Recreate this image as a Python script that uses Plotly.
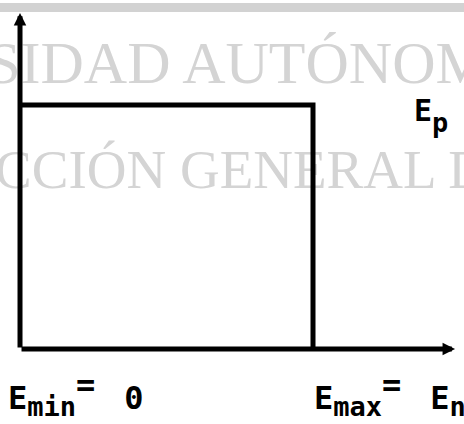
import plotly.graph_objects as go

# Energy levels (normalised so that E_max = 1) and the constant density E_p
E_MIN = 0.0
E_MAX = 1.0
E_P = 1.0

# lengths of the two drawn axes, in the same units
X_AXIS_END = 1.485
Y_AXIS_END = 1.377

# rectangular distribution: flat at E_p between E_min and E_max, then drops to zero
dist_x = [E_MIN, E_MAX, E_MAX]
dist_y = [E_P, E_P, 0.0]

# labels (a wide space spans the gap before the right-hand value)
GAP = "<span style='font-size:48px'> </span>"
SUB = "<sub><span style='font-size:27px'>{}</span></sub>"
EQ = "<sup><span style='font-size:32px'>=</span></sup>"
label_min = "E" + SUB.format("min") + EQ + GAP + "0"
label_max = "E" + SUB.format("max") + EQ + GAP + "E" + SUB.format("n")
label_p = "E<sub><sub><span style='font-size:27px'>p</span></sub></sub>"

# background stamp lines (centred text)
stamp_lines = ["SIDAD AUTÓNOM", "CCIÓN GENERAL D"]
stamp_x = [0.744, 0.756]
stamp_y = [1.151, 0.718]
stamp_size = [60, 55]

INK = "#000000"
STAMP = "#d4d4d4"
LABEL_FONT = dict(family="DejaVu Sans Mono", size=32, color=INK, weight="bold")

fig = go.Figure()

# stamp text sits underneath the drawing
for txt, sx, sy, ss in zip(stamp_lines, stamp_x, stamp_y, stamp_size):
    fig.add_trace(go.Scatter(
        x=[sx], y=[sy], mode="text", text=[txt],
        textposition="middle center",
        textfont=dict(family="Liberation Serif", size=ss, color=STAMP),
        cliponaxis=False, hoverinfo="skip",
    ))

# the distribution outline
fig.add_trace(go.Scatter(
    x=dist_x, y=dist_y, mode="lines",
    line=dict(color=INK, width=5),
    cliponaxis=False, hoverinfo="skip",
))

annotations = [
    # vertical axis with arrow
    dict(x=0, y=Y_AXIS_END, ax=0, ay=0, xref="x", yref="y", axref="x", ayref="y",
         showarrow=True, arrowhead=2, arrowsize=0.5, arrowwidth=5, arrowcolor=INK, text=""),
    # energy axis with arrow
    dict(x=X_AXIS_END, y=0, ax=0, ay=0, xref="x", yref="y", axref="x", ayref="y",
         showarrow=True, arrowhead=2, arrowsize=0.5, arrowwidth=5, arrowcolor=INK, text=""),
    dict(x=E_MIN, y=0, xref="x", yref="y", text=label_min, showarrow=False,
         xanchor="left", yanchor="middle", xshift=-14, yshift=-44, font=LABEL_FONT),
    dict(x=E_MAX, y=0, xref="x", yref="y", text=label_max, showarrow=False,
         xanchor="left", yanchor="middle", xshift=-1, yshift=-44, font=LABEL_FONT),
    dict(x=E_MAX, y=E_P, xref="x", yref="y", text=label_p, showarrow=False,
         xanchor="left", yanchor="middle", xshift=99, yshift=-11,
         font=dict(LABEL_FONT, size=30)),
]

fig.update_layout(
    width=464, height=424,
    margin=dict(l=0, r=0, t=0, b=0),
    paper_bgcolor="white", plot_bgcolor="white",
    showlegend=False,
    xaxis=dict(visible=False, range=[-0.0683, 1.5154], fixedrange=True),
    yaxis=dict(visible=False, range=[-0.3074, 1.4303], fixedrange=True),
    annotations=annotations,
    shapes=[dict(type="rect", xref="paper", yref="paper", x0=0, x1=1,
                 y0=0.9717, y1=0.9929, fillcolor="#d2d2d2",
                 line=dict(width=0), layer="below")],
)

fig.write_html("out.html")
